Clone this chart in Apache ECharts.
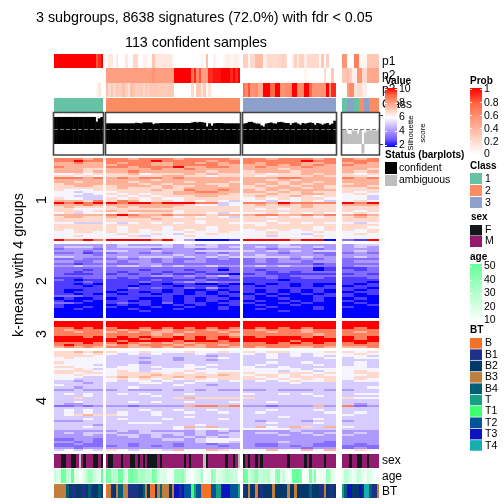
<!DOCTYPE html>
<html><head><meta charset="utf-8">
<style>html,body{margin:0;padding:0;background:#fff}#c{width:504px;height:504px}</style>
<script src="https://cdn.jsdelivr.net/npm/echarts@6/dist/echarts.min.js"></script>
</head><body><div id="c"></div>
<script>
const sliceSizes = [20,55,38,15];
const confidentCount = 113;
const coarseCols = [5,12,8,3];
const valueLevels = [2,2.7,3.4,4.2,5.1,5.8,6.8,7.6,8.6,10];

const p1 = [1,1,1,1,1,1,1,1,1,1,1,1,1,1,1,1,1,.8,.9,1,
 .02,.12,.12,0,.12,0,0,0,.12,0,.02,.22,.22,0,0,.08,.08,.02,.02,.3,.13,.13,.13,.13,.13,.13,.13,.05,0,0,0,0,0,0,0,0,0,0,0,.08,0,.35,0,0,.08,0,0,0,.05,.08,.1,.05,.08,.1,.05,
 .25,.25,.05,.2,.2,.35,.35,.35,.05,.1,.2,.2,.18,.18,.2,.22,.25,.2,0,0,.1,.25,.1,.25,.25,.1,.2,.2,.2,.2,.2,.05,.3,.02,.25,0,0,0,
 .55,.55,0,0,0,.65,.65,.05,.05,.05,.3,.3,.3,.3,.3];
const p2 = [0,0,0,0,0,0,0,0,0,0,0,0,0,0,0,0,0,0,0,0,
 .5,.5,.5,.5,.5,.5,.5,.5,.5,.5,.5,.5,.5,.5,.5,.5,.5,.5,.5,.55,.5,.5,.5,.5,.5,.5,.5,.5,1,1,1,1,1,1,1,.7,.9,.6,.8,.5,.5,.5,.9,.9,.95,.95,.95,1,1,1,1,.9,1,.9,1,
 0,0,0,0,0,0,0,0,0,0,0,0,0,0,0,0,0,0,0,0,0,0,0,0,0,.05,0,0,0,0,0,0,0,.2,0,.02,.3,0,
 .3,.3,.35,.25,.08,.08,.55,.55,.2,.2,.45,.45,.45,.45,.45];
const p3 = [0,0,0,0,0,0,0,0,0,0,0,0,0,0,0,0,0,.05,.12,0,
 .35,.2,.3,.2,.3,.25,.3,.35,.25,.15,.35,.3,.25,.28,.28,.2,.3,.25,.3,.28,.3,.28,.28,.28,.28,.28,.28,.28,0,0,0,0,0,0,0,.2,0,.28,.28,.15,.28,.05,.15,.02,0,0,0,0,0,0,0,0,0,0,0,
 .7,.6,.8,.55,.55,.6,.45,.45,1,1,1,.75,.75,1,1,.55,.55,.6,.6,.6,1,1,.6,.6,.6,1,1,.75,.55,.55,.55,.55,.55,.55,1,.5,.9,.9,
 .03,.03,.5,.6,.6,.15,.2,.2,.1,.1,0,0,0,0,0];
const classes = [1,1,1,1,1,1,1,1,1,1,1,1,1,1,1,1,1,1,1,1,
 2,2,2,2,2,2,2,2,2,2,2,2,2,2,2,2,2,2,2,2,2,2,2,2,2,2,2,2,2,2,2,2,2,2,2,2,2,2,2,2,2,2,2,2,2,2,2,2,2,2,2,2,2,2,2,
 3,3,3,3,3,3,3,3,3,3,3,3,3,3,3,3,3,3,3,3,3,3,3,3,3,3,3,3,3,3,3,3,3,3,3,3,3,3,
 1,1,3,3,3,1,1,2,2,3,3,2,2,2,2];
const silhouette = [.93,.93,.93,.93,.93,.93,.93,.93,.93,.93,.93,.93,.93,.93,.93,.93,.93,.77,.88,.93,
 .71,.71,.71,.71,.71,.71,.71,.71,.71,.71,.71,.71,.73,.72,.71,.74,.74,.74,.74,.68,.71,.71,.72,.72,.72,.72,.72,.72,.72,.72,.72,.72,.72,.72,.72,.74,.76,.74,.76,.75,.73,.6,.71,.63,.71,.72,.72,.72,.71,.71,.71,.71,.71,.71,.71,
 .7,.72,.76,.76,.73,.7,.7,.64,.6,.7,.72,.74,.71,.7,.75,.76,.74,.72,.72,.66,.72,.74,.7,.66,.72,.7,.72,.74,.72,.66,.72,.7,.66,.7,.72,.66,.7,.8,
 .48,.48,.36,.34,.46,.46,.36,.48,-.33,.4,.47,.47,.47,.46,.47];
const sex = 'MMMFFMMFFMNMFMMMFFMF'+'MFFMMMFMMMFFMFMFMFFFFMFMMMMMMMMMFMFMMMMMNFMMMMMMMFMMFMN'+'FMFMMFMFMMMMMMMMMMFMMMMMMFMFMMMMMFMMMM'+'MMMFMMFFMMFMMMM';
const age = [25,20,22,48,45,28,24,50,16,18,null,14,22,30,36,33,24,20,16,50,
 46,44,26,30,28,48,46,22,18,44,48,40,42,30,34,32,28,28,26,44,40,24,18,20,20,null,14,14,36,38,34,40,30,14,12,12,18,20,24,34,null,14,16,38,34,16,20,22,26,30,28,26,22,24,null,
 50,46,22,28,34,40,24,26,30,26,30,18,16,38,42,14,26,14,12,14,48,50,50,44,null,12,14,44,22,40,12,16,14,14,36,30,18,14,
 16,28,26,20,14,18,28,24,16,14,22,18,14,12,12];
const btNames = ['B','B1','B2','B3','B4','T','T1','T2','T3','T4'];
const bt = ['B3','B3','B3','B3','B3','B4','B2','B1','B1','B2','B2','B1','B1','B2','B4','B1','B2','B2','B4','B1',
 'B','B3','B1','B2','B3','B4','B4','B3','B3','B1','B1','B1','B1','B2','B2','B4','B3','B2','B','B','B2','B3','B4','B3','B3','B3','B2','B3','T3','T3','B1','T3','T2','T2','T2','T1','T','T2','T2','B','B','B','B','T2','T2','T','T','T3','T3','T3','T3','T2','T2','T2','T',
 'B1','B2','B3','B2','B2','B','B2','B1','B2','B2','B2','B2','B3','B2','B2','B2','B2','B2','B3','B2','B2','B3','B2','B2','B2','B2','B2','B4','B2','B2','B2','B1','B1','B3','B2','B1','B1','B2',
 'T','B4','T3','T3','B2','B2','B2','T3','B2','T4','T4','B4','B1','B1','B3'];

const heat1 = [
"88878 887888788887 88788878 878","88988 888898888788 88888988 888","77877 878877887878 87888778 787","77777 788877888877 77878787 877",
"87777 887888977887 78777877 777","77766 777787787777 77767777 776","77767 778777777677 67776777 767","55656 667566676766 66566767 656",
"66565 666667766566 65666676 665","88878 787887877777 77788777 878","77777 777767777777 77676777 777","77677 776777767776 77767767 777",
"67777 777676777667 76767677 677","66776 677767667767 67676776 776","66666 676667677777 66777676 667","65556 666676687787 76767777 666",
"55455 566666778877 77676766 656","55545 656566777776 66766776 565","55444 565656667766 67667656 554","65544 656565566666 56565665 554",
"77768 687566565654 55455654 565","98989 989989998845 88798888 989","77787 777777765545 67676766 777","67666 676777666666 66666766 666",
"66555 666666666666 65656666 666","66656 767777566666 66666666 656","56455 565666566545 55656565 565","77777 898778777677 78877878 787",
"67766 767766565654 66565656 676","66666 666676666666 66666666 666","66666 666666665666 66566666 666","55444 545656565665 55656565 545",
"66666 666666666666 65666666 666","66666 656665666566 66666656 665","65666 656565656566 56565656 656","55665 656555565565 55655565 556",
"55555 565565455655 55655455 565","55655 556455565555 55455565 555","55555 555555555555 55555555 555","98898 999989530001 99998990 219"];
const heat2 = [
"33333 343334343433 33343333 344","34443 344444344434 34344343 343","23332 333323332333 33233323 333","33323 443343334444 43434344 343",
"22312 233232332323 33323322 232","33332 333333433343 34333332 333","44333 343444343434 44443433 343","22322 232323223232 23232323 222",
"33223 323323233222 23233233 233","22122 222332222222 22222212 222","33433 344343433433 34343322 233","22222 222222222212 22222201 112",
"22212 222122212202 21222201 212","22122 212221221222 22121222 222","21112 121212112110 12111111 121","22222 222233232342 22212222 222",
"11122 212111221212 11211221 112","21011 111121112111 11101111 111","11121 111211232322 11111111 110","11010 111010110010 01010100 101",
"11101 110111011101 10110101 011","11111 112121121311 11111111 110","10011 101110100101 10101010 101","10111 011010101010 10101010 011",
"11010 101101101011 01010101 101","22211 111111011101 10100011 100","01001 011001010110 10010010 010","10010 110101010101 01001010 100",
"22100 121102011011 10010100 010","10000 010100101001 01001000 001","10010 100010010010 00100010 100","00100 001000100010 01000010 000",
"00000 000100000000 00010000 000","00000 000000000000 00000000 000","00000 000000000000 00000000 000","00000 000000000000 00000000 000"];
const heat3 = [
"99999 999999999999 99999999 999","99999 999999999999 99999999 999","99999 999999999999 99999999 999","88989 899898989898 98989899 989",
"87888 878787888787 87888788 888","88788 787877878878 88788788 878","88888 888878788887 88888878 888","99989 898988989898 98999898 989",
"99999 999899989899 99999999 989","99999 989999899989 99998999 999","88898 898787878888 88989898 898","89888 787888787878 88888888 888",
"78787 887787877887 87887787 778"];
const heat4 = [
"66767 655655565565 65665556 656","66656 545454445444 54545455 565","66665 444444444344 44545454 554","56555 444344344454 44544445 455",
"55555 444444344344 44444444 444","65555 444344444444 44544544 454","55554 445444454544 45444454 454","66555 455454455444 54454444 554",
"55654 555445554544 55555455 555","66665 565455565555 55545545 565","66566 566665656566 65566656 566","55655 566676666676 56656565 556",
"55544 676766767666 65656666 566","55444 565656566566 66565656 565","44344 545545445545 45456556 455","44434 444554454444 44445444 444",
"54444 444444544344 44444444 444","44344 445444444444 44444444 445","33433 343334343433 33433343 344","44444 444444444444 44444444 444",
"45454 454544454444 54454544 455","44454 444454444444 44444454 444","44644 444444676666 64444444 655","44444 444444444444 44444444 444",
"44544 445454454445 44544444 444","43344 444444444444 44444444 434","22323 332333378878 33233373 823","44444 444444444444 44444444 444",
"45454 444544544544 44544454 444","45454 454454454454 45444445 454","45676 654454444444 44444444 544","44444 444444454444 44454444 444",
"44454 454445444454 44444454 444","33344 444444444444 43444344 344","44444 445554444444 44544454 444","44443 444444445444 44444444 444",
"44454 444444574744 47547647 544","44444 444444545554 55554444 444","33333 343433334343 33334333 333","34344 433444434334 34433434 343",
"33343 344343434344 33343343 433","33333 334343343434 33333333 333","22332 333334434555 33333333 333","33232 333333334554 33343332 333",
"22322 332333233233 32233322 323","22222 232323233323 32232322 222","33233 333333333333 33333233 232","45454 654554755765 55755757 565"];

// ---- layout and style ----
const sliceBox = [[54,49],[106,134],[243,93],[342,37]];
const heatBands = [[158,83,heat1],[244,74,heat2],[321,27,heat3],[351,100,heat4]];
const RAMP = ['#0000FF','#6F57FF','#A58FFF','#D3C6FF','#FFFFFF','#FFD0BF','#FF9E81','#FF6A46','#FF0000'];
const classColors = ['#66C2A5','#FC8D62','#8DA0CB'];
const sexColors = {F:'#131719',M:'#931B6E',N:'#BEBEBE'};
const btColors = ['#F47226','#1C3187','#04386A','#C07F3F','#005F76','#18A086','#3EFF6F','#00559A','#0C14BE','#15AFAF'];
const AGE_TOP = '#66FF99', NA_GRAY = '#BEBEBE';

const grids=[],xA=[],yA=[],series=[];
const idx={heat:[],prob:[],age:[],cls:[],sex:[],bt:[]};
function addGrid(left,top,width,height,xn,yn){
  grids.push({left,top,width,height,show:false});
  const i=grids.length-1;
  xA.push({type:'category',gridIndex:i,show:false,data:Array.from({length:xn},(_,k)=>k)});
  yA.push({type:'category',gridIndex:i,show:false,inverse:true,data:Array.from({length:yn},(_,k)=>k)});
  return i;
}
function renderCell(params,api){
  const p=api.coord([api.value(0),api.value(1)]);
  const s=api.size([1,1]);
  const x0=Math.round(p[0]-s[0]/2),x1=Math.round(p[0]+s[0]/2);
  const y0=Math.round(p[1]-s[1]/2),y1=Math.round(p[1]+s[1]/2);
  return {type:'rect',shape:{x:x0,y:y0,width:x1-x0,height:y1-y0},style:{fill:api.visual('color')}};
}
function addHeat(group,g,data){
  idx[group].push(series.length);
  series.push({type:'custom',xAxisIndex:g,yAxisIndex:g,data,silent:true,progressive:0,animation:false,
    encode:{x:0,y:1},renderItem:renderCell});
}
let off=0, coarseOff=0;
sliceSizes.forEach((n,s)=>{
  const [L,W]=sliceBox[s];
  const pick=a=>a.slice(off,off+n);
  let g=addGrid(L,54,W,43,n,3);
  const pd=[];
  [p1,p2,p3].forEach((arr,r)=>pick(arr).forEach((v,c)=>pd.push([c,r,v])));
  addHeat('prob',g,pd);
  g=addGrid(L,98,W,14,n,1);
  addHeat('cls',g,pick(classes).map((v,c)=>[c,0,v]));
  grids.push({left:L,top:112,width:W,height:43,show:false});
  const si=grids.length-1;
  xA.push({type:'category',gridIndex:si,show:false,data:Array.from({length:n},(_,k)=>k)});
  const isLast=s===sliceSizes.length-1;
  yA.push({type:'value',gridIndex:si,min:-0.38,max:1.1,position:'right',show:isLast,
    axisLine:{show:false},splitLine:{show:false},axisLabel:{show:false},
    axisTick:{show:isLast,length:4,lineStyle:{color:'#333'},customValues:[0,1]}});
  series.push({type:'bar',xAxisIndex:si,yAxisIndex:si,barWidth:3,silent:true,animation:false,
    data:pick(silhouette).map((v,c)=>({value:v,itemStyle:{color:off+c<confidentCount?'#000':NA_GRAY}})),
    markLine:{silent:true,symbol:'none',animation:false,label:{show:false},data:[{yAxis:0.5}],lineStyle:{type:'dashed',color:'#777',width:1}}});
  const cn=coarseCols[s];
  heatBands.forEach(([top,h,rows])=>{
    const gi=addGrid(L,top,W,h,cn,rows.length);
    const d=[];
    rows.forEach((row,r)=>{
      const cells=row.replace(/ /g,'');
      for(let c=0;c<cn;c++) d.push([c,r,valueLevels[+cells[coarseOff+c]]]);
    });
    addHeat('heat',gi,d);
  });
  g=addGrid(L,454,W,14,n,1);
  const sexCodes=sex.slice(off,off+n).split('');
  addHeat('sex',g,sexCodes.map((v,c)=>[c,0,'FMN'.indexOf(v)]));
  g=addGrid(L,469,W,14,n,1);
  addHeat('age',g,pick(age).map((v,c)=>[c,0,v===null?-1:v]));
  g=addGrid(L,484,W,14,n,1);
  addHeat('bt',g,pick(bt).map((v,c)=>[c,0,btNames.indexOf(v)]));
  off+=n; coarseOff+=cn;
});

const visualMap=[
 {type:'continuous',show:false,dimension:2,min:2,max:10,seriesIndex:idx.heat,inRange:{color:RAMP}},
 {type:'continuous',show:false,dimension:2,min:0,max:1,seriesIndex:idx.prob,inRange:{color:RAMP.slice(4)}},
 {type:'continuous',show:false,dimension:2,min:10,max:50,seriesIndex:idx.age,inRange:{color:['#FFFFFF',AGE_TOP]},outOfRange:{color:NA_GRAY}},
 {type:'piecewise',show:false,dimension:2,seriesIndex:idx.cls,pieces:classColors.map((c,i)=>({value:i+1,color:c}))},
 {type:'piecewise',show:false,dimension:2,seriesIndex:idx.sex,pieces:[0,1,2].map(i=>({value:i,color:sexColors['FMN'[i]]}))},
 {type:'piecewise',show:false,dimension:2,seriesIndex:idx.bt,pieces:btColors.map((c,i)=>({value:i,color:c}))}
];

const FF='"Liberation Sans",Arial,sans-serif';
const el=[];
function T(text,x,y,size,opt={}){
  el.push({type:'text',x,y,rotation:opt.rot||0,z:opt.z||20,silent:true,
    style:{text,x:0,y:0,fill:'#000',font:(opt.bold?'bold ':'')+size+'px '+FF,textAlign:opt.align||'left',textVerticalAlign:'middle'}});
}
function R(x,y,w,h,fill,opt={}){
  el.push({type:'rect',z:opt.z||10,silent:true,shape:{x,y,width:w,height:h},style:Object.assign({fill},opt.style||{})});
}
function grad(x,y,w,h,colors){
  R(x,y,w,h,{type:'linear',x:0,y:0,x2:0,y2:1,colorStops:colors.map((c,i)=>({offset:i/(colors.length-1),color:c}))});
}
function ticks(x,w,ys){ ys.forEach(y=>{R(x,y,2,1,'#fff',{z:11});R(x+w-2,y,2,1,'#fff',{z:11});}); }

T('3 subgroups, 8638 signatures (72.0%) with fdr < 0.05',36,18,14.3);
T('113 confident samples',125,43,14.3);
T('k-means with 4 groups',19,265,14.3,{rot:Math.PI/2,align:'center'});
[['1',200],['2',281],['3',334],['4',401]].forEach(([t,y])=>T(t,42,y,14.3,{rot:Math.PI/2,align:'center'}));
[['p1',62],['p2',76],['p3',90],['Class',105],['sex',461],['age',477],['BT',492]].forEach(([t,y])=>T(t,382,y,12,{z:5}));
sliceBox.forEach(([L,W])=>R(L-0.5,112.5,W+1,42.5,'none',{z:12,style:{fill:'none',stroke:'#444',lineWidth:1.6}}));
T('Value',385,81,10,{bold:true});
grad(385,88,12,59,RAMP.slice().reverse());
ticks(385,12,[89,103,117,131,145]);
[['10',89],['8',103],['6',117],['4',131],['2',145]].forEach(([t,y])=>T(t,399,y,10.5));
T('Silhouette',411,133,8,{rot:Math.PI/2,align:'center'});
T('score',423,133,8,{rot:Math.PI/2,align:'center'});
T('Status (barplots)',385,155,10,{bold:true});
R(385,162,12,12,'#000');R(385,175,12,11,NA_GRAY);
T('confident',399,168,10.5);T('ambiguous',399,180,10.5);
T('Prob',470,81,10,{bold:true});
grad(470,88,12,66,RAMP.slice(4).reverse());
ticks(470,12,[89,102,115,128,141]);
[['1',89],['0.8',103],['0.6',116],['0.4',129],['0.2',142],['0',154]].forEach(([t,y])=>T(t,484,y,10.5));
T('Class',470,166,10,{bold:true});
classColors.forEach((c,i)=>{R(470,173+12*i,12,11,c);T(String(i+1),485,179+12*i,10.5);});
T('sex',471,217,10,{bold:true});
R(470,225,12,10.5,sexColors.F);T('F',485,230,10.5);
R(470,236,12,11,sexColors.M);T('M',485,241.5,10.5);
T('age',470,257,10,{bold:true});
grad(470,264,12,58,[AGE_TOP,'#FFFFFF']);
ticks(470,12,[266,280,293,307]);
[['50',266],['40',280],['30',293],['20',307],['10',320]].forEach(([t,y])=>T(t,484,y,10.5));
T('BT',470,330,10,{bold:true});
btNames.forEach((n,i)=>{R(470,338+11.35*i,12,10.6,btColors[i]);T(n,485,343.5+11.35*i,10.5);});

const chart=echarts.init(document.getElementById('c'),null,{renderer:'canvas',width:504,height:504});
chart.setOption({animation:false,backgroundColor:'#fff',grid:grids,xAxis:xA,yAxis:yA,visualMap,series,graphic:{elements:el}});
</script></body></html>
